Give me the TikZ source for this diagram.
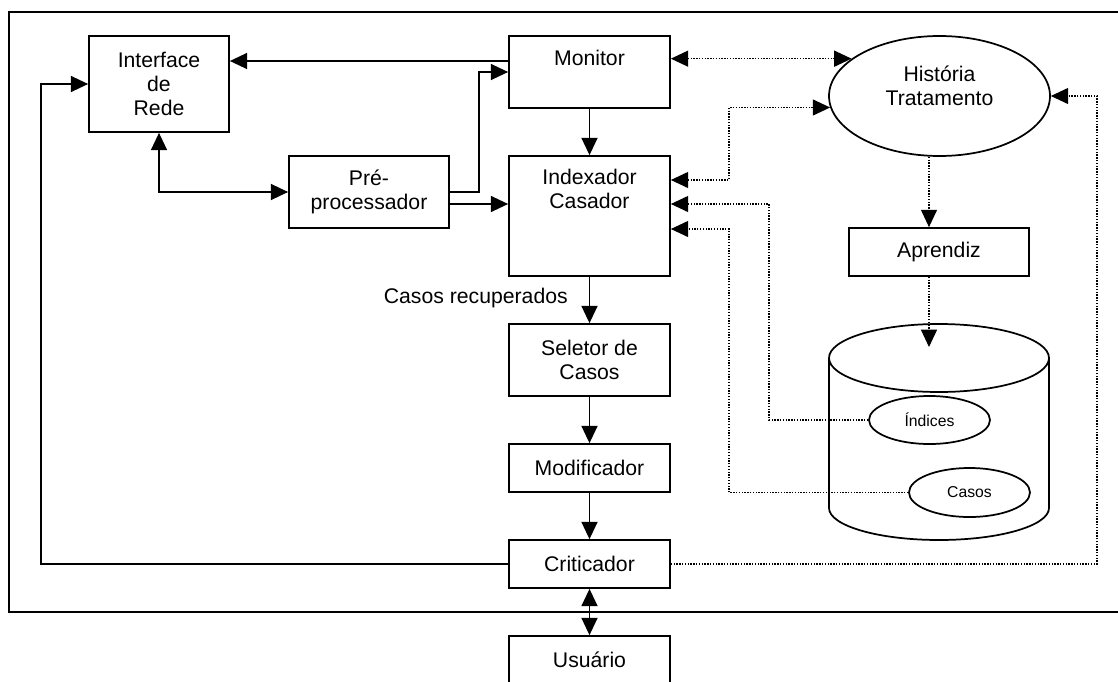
\documentclass[tikz,border=0pt]{standalone}
\usepackage{fontspec}
\setmainfont{Liberation Sans}
\usetikzlibrary{arrows.meta,shapes.geometric,calc}
\newcommand\dgmain{\fontsize{15.9}{18}\selectfont}
\newcommand\dgsmall{\fontsize{11.8}{14}\selectfont}
\tikzset{
  box/.style={draw, line width=1.3pt, rectangle, inner sep=0pt, align=center, font=\dgmain},
  ell/.style={draw, line width=1.3pt, ellipse, inner sep=0pt, align=center},
  txt/.style={inner sep=0pt, align=center, font=\dgmain},
  tip/.tip={Triangle[length=13pt,width=12pt]},
  arr/.style={line width=1.3pt, -tip},
  dbl/.style={line width=1.3pt, tip-tip},
  dot/.style={line width=1pt, dash pattern=on 1pt off 1.1pt},
  darr/.style={dot, -tip},
  ddbl/.style={dot, tip-tip},
}
\begin{document}
\begin{tikzpicture}[x=0.75pt,y=-0.75pt]
\useasboundingbox (0,0) rectangle (1118,682);
\clip (0,0) rectangle (1118,682);
% outer frame
\draw[line width=1.4pt] (8.7,12) rectangle (1130,612);

% boxes
\node[box, minimum width=105pt, minimum height=72pt] (ifr) at (159,84) {Interface\\de\\Rede};
\node[box, minimum width=120.75pt, minimum height=54pt] (mon) at (589.5,72) {};
\node[txt, anchor=north] (mont) at ([yshift=-11.25pt]mon.north) {Monitor};
\node[box, minimum width=120pt, minimum height=54pt] (pre) at (369,192) {Pré-\\processador};
\node[box, minimum width=120.75pt, minimum height=90pt] (idx) at (589.5,216) {};
\node[txt, anchor=north] (idxt) at ([yshift=-10.4pt]idx.north) {Indexador\\Casador};
\node[box, minimum width=120.75pt, minimum height=54pt] (sel) at (589.5,360) {Seletor de\\Casos};
\node[box, minimum width=120.75pt, minimum height=36pt] (mod) at (589.5,468) {Modificador};
\node[box, minimum width=120.75pt, minimum height=36pt] (crit) at (589.5,564) {Criticador};
\node[box, minimum width=120.75pt, minimum height=36pt] (usu) at (589.5,660) {Usuário};
\node[box, minimum width=135pt, minimum height=36pt] (apr) at (939,252) {Aprendiz};

% ellipse
\node[ell, minimum width=165.75pt, minimum height=90pt] (hist) at (939.5,96) {};
\node[txt] (histt) at (939.5,85.3) {História\\Tratamento};

% cylinder
\draw[line width=1.3pt] (829,358) -- (829,508) arc[start angle=180, end angle=360, x radius=82.5pt, y radius=24pt] -- (1049,358);
\draw[line width=1.3pt] (939,358) ellipse [x radius=82.5pt, y radius=25.5pt];
\coordinate (cyltop) at (929,347);
\node[ell, minimum width=90.75pt, minimum height=36pt, font=\dgsmall] (ind) at (929.5,420) {Índices};
\node[ell, minimum width=90.75pt, minimum height=36.75pt, font=\dgsmall] (cas) at (969.5,492.5) {Casos};

% solid connectors
\draw[arr] (mon.west |- 0,61) -- (ifr.east |- 0,61);
\draw[arr] (pre.east) -- (479,192) |- (mon.west);
\draw[arr] (pre.east |- 0,204) -- (idx.west |- 0,204);
\draw[dbl] (ifr.south) |- (pre.west);
\draw[arr] (crit.west) -| (41,84) -- (ifr.west |- 0,84);
\draw[arr] (mon.south) -- (idx.north);
\draw[arr] (idx.south) -- (sel.north);
\node[txt, anchor=base east] (casrec) at (568,303) {Casos recuperados};
\draw[arr] (sel.south) -- (mod.north);
\draw[arr] (mod.south) -- (crit.north);
\draw[dbl] (crit.south) -- (usu.north);

% dotted connectors
\draw[ddbl] (mon.east |- hist.157.84) -- (hist.157.84);
\draw[ddbl] (idx.east |- 0,180) -- (729,180) |- (hist.186.32);
\draw[darr] (ind.west) -- (769,420) |- (idx.east |- 0,204);
\draw[darr] (cas.west) -- (729,492.5) |- (idx.east |- 0,229);
\draw[darr] (929,0 |- hist.south) -- (929,0 |- apr.north);
\draw[darr] (929,0 |- apr.south) -- (cyltop);
\draw[darr] (crit.east) -| (1097,96) -- (hist.east);
\end{tikzpicture}
\end{document}
